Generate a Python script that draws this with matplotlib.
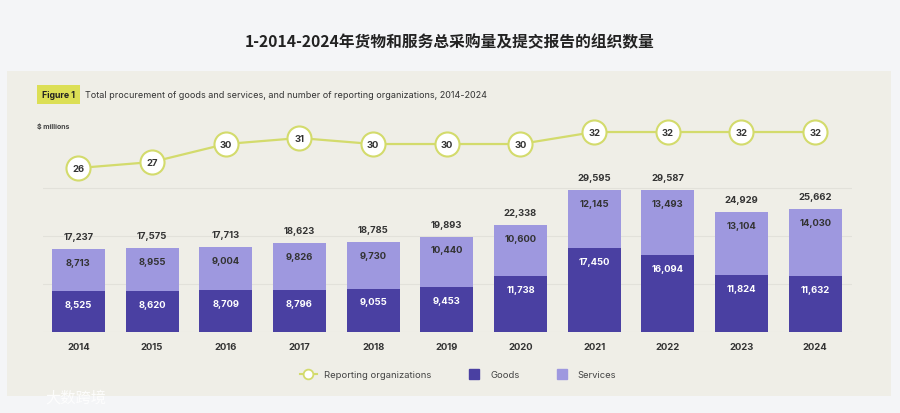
import matplotlib
matplotlib.use("Agg")
import matplotlib.pyplot as plt
from matplotlib.patches import Rectangle
from matplotlib.lines import Line2D

# data
years = ["2014", "2015", "2016", "2017", "2018", "2019", "2020", "2021", "2022", "2023", "2024"]
goods = [8525, 8620, 8709, 8796, 9055, 9453, 11738, 17450, 16094, 11824, 11632]
services = [8713, 8955, 9004, 9826, 9730, 10440, 10600, 12145, 13493, 13104, 14030]
totals = [17237, 17575, 17713, 18623, 18785, 19893, 22338, 29595, 29587, 24929, 25662]
orgs = [26, 27, 30, 31, 30, 30, 30, 32, 32, 32, 32]

c_goods = "#4a40a2"
c_serv = "#9e98df"
c_line = "#d3db6c"
c_text = "#333333"
panel_bg = "#efeee7"
page_bg = "#f4f5f7"

plt.rcParams['font.family'] = ['Inter', 'DejaVu Sans']

W, H = 900, 414
fig = plt.figure(figsize=(9, 4.14), dpi=100, facecolor=page_bg)

def fx(px):
    return px / W

def fy(py):
    return 1 - py / H

# beige panel
fig.patches.append(Rectangle((fx(7), fy(397)), fx(891) - fx(7), fy(72) - fy(397),
                             transform=fig.transFigure, facecolor=panel_bg,
                             edgecolor="none", zorder=-10))

# main title
fig.text(0.5, fy(42), "1-2014-2024年货物和服务总采购量及提交报告的组织数量",
         ha="center", va="center", fontsize=11.3, fontweight="bold", color="#222222",
         family=["Noto Sans CJK SC", "DejaVu Sans"])

# figure tag + subtitle
fig.patches.append(Rectangle((fx(37), fy(105)), fx(80) - fx(37), fy(86) - fy(105),
                             transform=fig.transFigure, facecolor="#dcdf55",
                             edgecolor="none", zorder=-5))
fig.text(fx(58.5), fy(96), "Figure 1", ha="center", va="center", fontsize=6.3,
         fontweight="bold", color="#222222")
fig.text(fx(85), fy(96), "Total procurement of goods and services, and number of reporting organizations, 2014-2024",
         ha="left", va="center", fontsize=6.5, color="#333333")
fig.text(fx(37), fy(126), "$ millions", ha="left", va="center", fontsize=5,
         fontweight="bold", color="#444444")

# axes area
ax = fig.add_axes([fx(43), fy(333), fx(852) - fx(43), fy(120) - fy(333)])
ax.set_facecolor("none")
x = list(range(len(years)))
width = 0.72

ax.bar(x, goods, width, color=c_goods, zorder=2)
ax.bar(x, services, width, bottom=goods, color=c_serv, zorder=2)

for xi, g, s, t in zip(x, goods, services, totals):
    ax.text(xi, g - 2800, f"{g:,}", ha="center", va="center", fontsize=6.8,
            fontweight="bold", color="white", zorder=3)
    ax.text(xi, g + s - 2800, f"{s:,}", ha="center", va="center", fontsize=6.8,
            fontweight="bold", color=c_text, zorder=3)
    ax.text(xi, t + 2600, f"{t:,}", ha="center", va="center", fontsize=6.8,
            fontweight="bold", color=c_text, zorder=3)

ax.set_xlim(-0.48, 10.5)
ax.set_ylim(0, 44375)
ax.set_yticks([10000, 20000, 30000])
ax.grid(axis="y", color="#e2e1da", linewidth=0.8, zorder=0)
ax.axhline(0, color="#e2e1da", linewidth=0.8, zorder=1)
ax.set_xticks(x)
ax.set_xticklabels(years, fontsize=6.8, fontweight="bold", color=c_text)
for sp in ax.spines.values():
    sp.set_visible(False)

# reporting organizations line
ax2 = ax.twinx()
ax2.set_ylim(-1.33, 34.17)
ax2.plot(x, orgs, color=c_line, linewidth=1.6, zorder=2)
ax2.scatter(x, orgs, s=300, facecolor="white", edgecolor=c_line, linewidth=1.5, zorder=3)
for xi, v in zip(x, orgs):
    ax2.text(xi, v, str(v), ha="center", va="center", fontsize=6.8,
             fontweight="bold", color=c_text, zorder=4)
ax2.axis("off")

ax.tick_params(axis="y", left=False, right=False, labelleft=False)
ax.tick_params(axis="x", bottom=False, pad=4)

# legend
handles = [
    Line2D([0], [0], color=c_line, linewidth=1.5, marker="o", markersize=7,
           markerfacecolor="white", markeredgecolor=c_line, markeredgewidth=1.3),
    Line2D([0], [0], linestyle="none", marker="s", markersize=7,
           markerfacecolor=c_goods, markeredgecolor=c_goods),
    Line2D([0], [0], linestyle="none", marker="s", markersize=7,
           markerfacecolor=c_serv, markeredgecolor=c_serv),
]
fig.legend(handles, ["Reporting organizations", "Goods", "Services"],
           loc="center", bbox_to_anchor=(fx(458), fy(376)), ncol=3, frameon=False,
           fontsize=6.8, handlelength=1.8, columnspacing=3.6,
           handletextpad=0.8, labelcolor="#444444")

# watermark
fig.text(fx(45), fy(398), "大数跨境", ha="left", va="center", fontsize=11,
         color="white", alpha=0.85, family=["Noto Sans CJK SC", "DejaVu Sans"])

fig.savefig("out.png", dpi=100, facecolor=page_bg)
